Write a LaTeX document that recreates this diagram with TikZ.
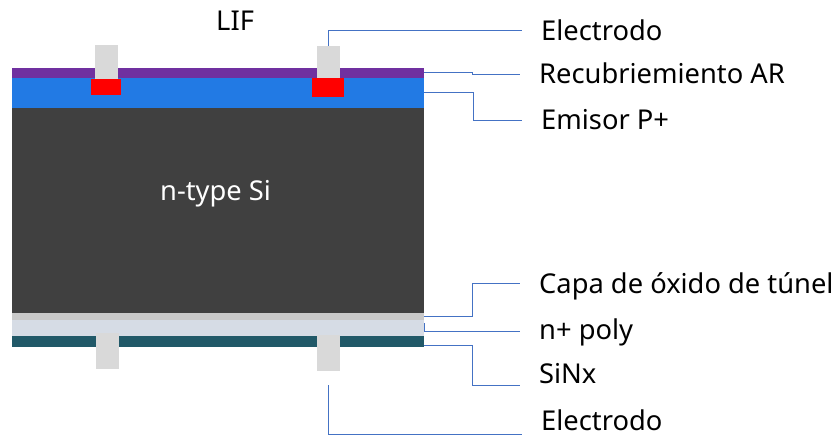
\documentclass[tikz,border=0pt]{standalone}
\usepackage{fontspec}
\setmainfont{Noto Sans}
\usetikzlibrary{calc}
\definecolor{recub}{RGB}{112,48,160}
\definecolor{emisor}{RGB}{34,122,228}
\definecolor{silicio}{RGB}{64,64,64}
\definecolor{tunel}{RGB}{201,201,201}
\definecolor{poly}{RGB}{214,220,229}
\definecolor{sinx}{RGB}{33,89,104}
\definecolor{metal}{RGB}{217,217,217}
\definecolor{guia}{RGB}{68,114,196}
\tikzset{
	layer/.style={anchor=north west,inner sep=0pt,outer sep=0pt,minimum width=412pt},
	contact/.style={anchor=north west,inner sep=0pt,outer sep=0pt,fill=metal},
	lif/.style={anchor=north west,inner sep=0pt,outer sep=0pt,fill=red},
	label/.style={anchor=base west,inner sep=0pt,font=\fontsize{27.3}{32}\selectfont},
	guide/.style={guia,line width=0.9pt}
}

\begin{document}
\begin{tikzpicture}[x=1pt,y=-1pt]
	\useasboundingbox (0,0) rectangle (839,437);
	% capas
	\node[layer,fill=recub,minimum height=9.5pt] (AR) at (12,68) {};
	\node[layer,fill=emisor,minimum height=30.5pt] (PP) at (12,77.5) {};
	\node[layer,fill=silicio,minimum height=205pt] (Si) at (12,108) {};
	\node[layer,fill=tunel,minimum height=7pt] (TO) at (12,313) {};
	\node[layer,fill=poly,minimum height=16pt] (NP) at (12,320) {};
	\node[layer,fill=sinx,minimum height=11pt] (SN) at (12,336) {};
	% contactos
	\node[lif,minimum width=30pt,minimum height=16pt] (L1) at (91,79) {};
	\node[lif,minimum width=32pt,minimum height=19pt] (L2) at (312,78) {};
	\node[contact,minimum width=23pt,minimum height=34pt] (E1) at (95,45) {};
	\node[contact,minimum width=23pt,minimum height=32pt] (E2) at (316.5,46) {};
	\node[contact,minimum width=23pt,minimum height=36pt] (E3) at (96,333) {};
	\node[contact,minimum width=23pt,minimum height=36pt] (E4) at (316.5,335) {};
	% textos
	\node[label,text=white] (tSi) at (160,200.7) {n-type Si};
	\node[label] (tLIF) at (216,30) {LIF};
	\node[label] (t1) at (541,40) {Electrodo};
	\node[label] (t2) at (539,83.3) {Recubriemiento AR};
	\node[label] (t3) at (541,129.3) {Emisor P+};
	\node[label] (t4) at (539,293.3) {Capa de óxido de túnel};
	\node[label] (t5) at (539,339) {n+ poly};
	\node[label] (t6) at (539,383) {SiNx};
	\node[label] (t7) at (541,430.5) {Electrodo};
	% guias
	\coordinate (g1) at (522,30.5);
	\coordinate (g2) at (520,74.7);
	\coordinate (g3) at (522,120.5);
	\coordinate (g4) at (520,283.5);
	\coordinate (g5) at (520,331.7);
	\coordinate (g6) at (520,385.7);
	\coordinate (g7) at (522,434.5);
	\coordinate (g8) at (328,385);
	\draw[guide] (E2.north) |- (g1);
	\draw[guide] (AR.east) -- (472,72.75) |- (g2);
	\draw[guide] (PP.east |- 0,92) -- (473,92) |- (g3);
	\draw[guide] (TO.east |- 0,316.5) -- (472,316.5) |- (g4);
	\draw[guide] (424.5,323) |- (g5);
	\draw[guide] (SN.east |- 0,345.7) -- (472,345.7) |- (g6);
	\draw[guide] (g8) |- (g7);
\end{tikzpicture}
\end{document}
